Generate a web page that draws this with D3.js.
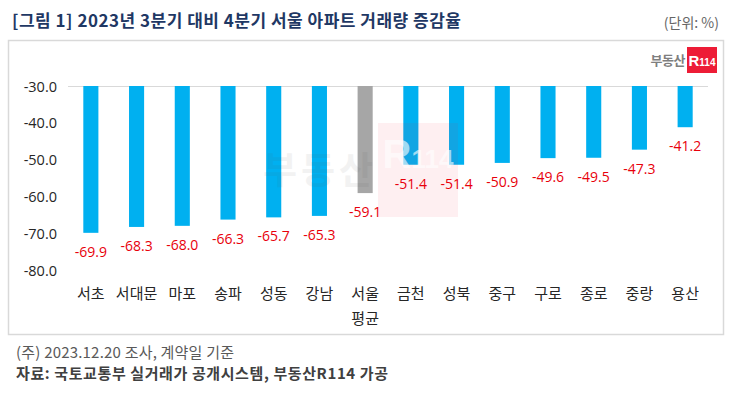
<!DOCTYPE html>
<html><head><meta charset="utf-8">
<script src="https://cdn.jsdelivr.net/npm/d3@7"></script>
<style>
html,body{margin:0;padding:0;background:#fff;}
svg{display:block;font-family:"Noto Sans CJK KR","Noto Sans",sans-serif;}
</style></head>
<body>
<svg id="chart" width="732" height="397"></svg>
<script>
const categories = ["서초","서대문","마포","송파","성동","강남","서울\n평균","금천","성북","중구","구로","종로","중랑","용산"];
const values = [-69.9,-68.3,-68.0,-66.3,-65.7,-65.3,-59.1,-51.4,-51.4,-50.9,-49.6,-49.5,-47.3,-41.2];
const highlight = ["서울\n평균"];
const yTicks = [-30,-40,-50,-60,-70,-80];
const titleText = "[그림 1] 2023년 3분기 대비 4분기 서울 아파트 거래량 증감율";
const unitText = "(단위: %)";
const noteText = "(주) 2023.12.20 조사, 계약일 기준";
const sourceText = "자료: 국토교통부 실거래가 공개시스템, 부동산R114 가공";

const svg = d3.select("#chart");

// title
svg.append("text").attr("x",12).attr("y",27).attr("font-size",17).attr("font-weight","bold")
  .attr("fill","#1f3864").attr("textLength",449).attr("lengthAdjust","spacing").text(titleText);
svg.append("text").attr("x",719).attr("y",28).attr("text-anchor","end").attr("font-size",14)
  .attr("fill","#666").text(unitText);

// panel
svg.append("rect").attr("x",8.5).attr("y",40.5).attr("width",715).attr("height",294)
  .attr("fill","#fff").attr("stroke","#d9d9d9").attr("stroke-width",1.5);

// logo
svg.append("text").attr("x",685).attr("y",64.5).attr("text-anchor","end").attr("font-size",13)
  .attr("font-weight","bold").attr("fill","#7f7f7f").attr("letter-spacing",-0.5).text("부동산");
svg.append("rect").attr("x",687).attr("y",47).attr("width",30).attr("height",26).attr("fill","#ed1c36");
svg.append("text").attr("x",702).attr("y",66).attr("text-anchor","middle").attr("fill","#fff")
  .attr("font-family","Liberation Sans, Arial, sans-serif").attr("font-weight","bold")
  .html('<tspan font-size="15">R</tspan><tspan font-size="10">114</tspan>');

const x = d3.scaleBand().domain(categories).range([68,708]).paddingInner(0.67).paddingOuter(0.335);
const y = d3.scaleLinear().domain([-30,-80]).range([86,270]);

// top gridline
svg.append("line").attr("x1",68).attr("x2",708).attr("y1",y(-30)+0.5).attr("y2",y(-30)+0.5)
  .attr("stroke","#d9d9d9").attr("stroke-width",1.2);

// y axis
const yAxis = d3.axisLeft(y).tickValues(yTicks).tickFormat(d=>d.toFixed(1)).tickSize(0).tickPadding(0);
const ga = svg.append("g").attr("transform","translate(57,0)").call(yAxis);
ga.select(".domain").remove();
ga.selectAll("text").attr("font-size",14.5).attr("fill","#262626")
  .attr("font-family","'Open Sans','Noto Sans',sans-serif").attr("dy","0.35em");

// bars
svg.append("g").selectAll("rect").data(categories).join("rect")
  .attr("x",d=>x(d)).attr("width",x.bandwidth())
  .attr("y",y(-30)).attr("height",(d,i)=>y(values[i])-y(-30))
  .attr("fill",d=>highlight.includes(d)?"#a6a6a6":"#00b0f0");

// watermark
const wm = svg.append("g").attr("opacity",0.07);
wm.append("text").attr("x",263).attr("y",184).attr("font-size",37).attr("font-weight","bold")
  .attr("fill","#555").attr("textLength",110).text("부동산");
svg.append("rect").attr("x",378).attr("y",123).attr("width",80).attr("height",94)
  .attr("fill","#ed1c36").attr("opacity",0.07);
svg.append("text").attr("x",418).attr("y",168).attr("text-anchor","middle").attr("fill","#fff")
  .attr("opacity",0.6).attr("font-family","Liberation Sans, Arial, sans-serif").attr("font-weight","bold")
  .html('<tspan font-size="40">R</tspan><tspan font-size="26">114</tspan>');

// value labels
svg.append("g").selectAll("text").data(categories).join("text")
  .attr("x",d=>x(d)+x.bandwidth()/2).attr("y",(d,i)=>y(values[i])+24)
  .attr("text-anchor","middle").attr("font-size",14).attr("fill","#e8000b")
  .attr("font-family","'Open Sans','Noto Sans',sans-serif")
  .text((d,i)=>values[i].toFixed(1));

// category labels
const cl = svg.append("g").selectAll("text").data(categories).join("text")
  .attr("x",d=>x(d)+x.bandwidth()/2).attr("y",299)
  .attr("text-anchor","middle").attr("font-size",15).attr("fill","#262626");
cl.each(function(d){
  const parts = d.split("\n");
  const t = d3.select(this);
  parts.forEach((p,k)=>{
    t.append("tspan").attr("x",x(d)+x.bandwidth()/2).attr("dy",k===0?0:25).text(p);
  });
});

// footer
svg.append("text").attr("x",16).attr("y",358).attr("font-size",15).attr("fill","#595959")
  .attr("textLength",218).attr("lengthAdjust","spacing").text(noteText);
svg.append("text").attr("x",16).attr("y",379).attr("font-size",15).attr("font-weight","bold")
  .attr("fill","#404040").attr("textLength",372).attr("lengthAdjust","spacing").text(sourceText);
</script>
</body></html>
